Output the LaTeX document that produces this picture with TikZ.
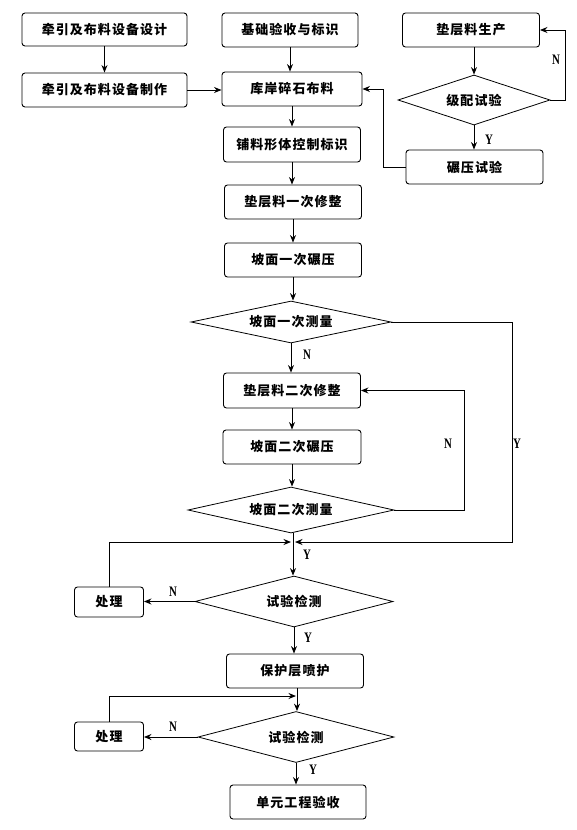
\documentclass[tikz,border=0pt]{standalone}
\usepackage{fontspec}
\newfontfamily\cjk[LetterSpace=8]{Noto Sans CJK SC}
\newfontfamily\yn[FakeStretch=0.75]{Liberation Serif}
\usetikzlibrary{shapes.geometric,arrows.meta}
\begin{document}
\begin{tikzpicture}[x=1pt,y=-1pt,
  box/.style={draw, rounded corners=3pt, line width=0.9pt, minimum width=137pt, minimum height=34pt, inner sep=0pt, font=\cjk\fontsize{13}{15}\selectfont\bfseries},
  dia/.style={draw, diamond, aspect=4, inner sep=0pt, line width=0.8pt, font=\cjk\fontsize{13}{15}\selectfont\bfseries},
  arr/.style={line width=1pt, -{Stealth[length=7.5pt,width=6pt]}},
  ln/.style={line width=1pt},
  lab/.style={font=\yn\fontsize{14.5}{16}\selectfont\bfseries, inner sep=0pt}]
\useasboundingbox (0,0) rectangle (576,830);
% nodes
\node[box, minimum width=165pt, minimum height=33pt] (A) at (104.5,29.5) {牵引及布料设备设计};
\node[box, minimum width=165pt] (A2) at (104.5,90) {牵引及布料设备制作};
\node[box, minimum width=136pt] (B) at (290,30) {基础验收与标识};
\node[box, minimum width=140pt] (K) at (292,89) {库岸碎石布料};
\node[box] (C) at (471,30) {垫层料生产};
\node[dia, minimum width=152pt, minimum height=50pt] (D1) at (474,100) {级配试验};
\node[box] (R) at (474.5,167) {碾压试验};
\node[box, minimum height=35pt] (P) at (292,144.5) {铺料形体控制标识};
\node[box] (T1) at (293,202) {垫层料一次修整};
\node[box] (G1) at (293,260) {坡面一次碾压};
\node[dia, minimum width=200pt, minimum height=42pt] (M1) at (291,322) {坡面一次测量};
\node[box, minimum height=35pt] (T2) at (292,390.5) {垫层料二次修整};
\node[box, minimum width=138pt] (G2) at (292,447) {坡面二次碾压};
\node[dia, minimum width=206pt, minimum height=46pt] (M2) at (291,510) {坡面二次测量};
\node[dia, minimum width=198pt, minimum height=51pt] (E1) at (294,601.5) {试验检测};
\node[box, minimum width=69pt, minimum height=30pt] (H1) at (109,602) {处理};
\node[box] (S) at (295,671) {保护层喷护};
\node[dia, minimum width=196pt, minimum height=51pt] (E2) at (296,737) {试验检测};
\node[box, minimum width=69pt, minimum height=29pt] (H2) at (109,736.5) {处理};
\node[box, minimum width=136pt] (U) at (298,802) {单元工程验收};
\coordinate (J1) at (293,542);
\coordinate (J2) at (297,696);
% connectors top
\draw[arr] (A.south) -- (A.south |- A2.north);
\draw[arr] (A2.east) -- (A2.east -| K.west);
\draw[arr] (B.south) -- (B.south |- K.north);
\draw[arr] (D1.north |- C.south) -- (D1.north);
\draw[arr] (D1.east) -- ++(15,0) |- (C.east);
\node[lab] (n1) at (556,60) {N};
\draw[arr] (D1.south) -- (D1.south |- R.north);
\node[lab] (y1) at (489,140) {Y};
\draw[arr] (R.west) -- ++(-22,0) |- (K.east);
% main column
\draw[arr] (K.south) -- (K.south |- P.north);
\draw[arr] (P.south) -- (P.south |- T1.north);
\draw[arr] (T1.south) -- (T1.south |- G1.north);
\draw[arr] (G1.south) -- (G1.south |- M1.north);
\draw[arr] (M1.south) -- (M1.south |- T2.north);
\node[lab] (n2) at (307,355) {N};
\draw[arr] (M1.east) -- ++(121,0) |- ([xshift=2pt]J1);
\node[lab] (y2) at (517,444) {Y};
\draw[arr] (T2.south) -- (T2.south |- G2.north);
\draw[arr] (G2.south) -- (G2.south |- M2.north);
\draw[arr] (M2.east) -- ++(70,0) |- (T2.east);
\node[lab] (n3) at (448,444) {N};
\draw[arr] (J1 |- M2.south) -- (J1 |- E1.north);
\node[lab] (y3) at (307,555) {Y};
\draw[arr] (H1.north) |- ([xshift=-2pt]J1);
\draw[arr] (E1.west) -- (E1.west -| H1.east);
\node[lab] (n4) at (173,592) {N};
\draw[arr] (E1.south) -- (E1.south |- S.north);
\node[lab] (y4) at (308,638) {Y};
\draw[arr] (J2 |- S.south) -- (J2 |- E2.north);
\draw[arr] (H2.north) |- ([xshift=-1pt]J2);
\draw[arr] (E2.west) -- (E2.west -| H2.east);
\node[lab] (n5) at (173,727) {N};
\draw[arr] (E2.south) -- (E2.south |- U.north);
\node[lab] (y5) at (313,770) {Y};
\end{tikzpicture}
\end{document}
